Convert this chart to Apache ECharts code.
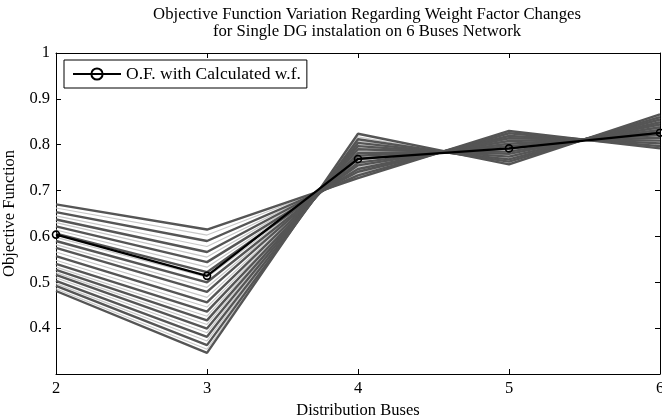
<!DOCTYPE html>
<html>
<head>
<meta charset="utf-8">
<script src="https://cdn.jsdelivr.net/npm/echarts@6/dist/echarts.min.js"></script>
<style>html,body{margin:0;padding:0;background:#fff;}#c{width:662px;height:418px;}</style>
</head>
<body>
<div id="c"></div>
<script>
// Distribution buses (x)
const buses = [2, 3, 4, 5, 6];
// Objective function for each weight-factor combination (dark lines), one array per bus
const darkAt2 = [0.670, 0.653, 0.637, 0.622, 0.606, 0.590, 0.575, 0.557, 0.540, 0.527, 0.516, 0.503, 0.492, 0.481];
const darkAt3 = [0.615, 0.590, 0.566, 0.544, 0.522, 0.500, 0.479, 0.456, 0.436, 0.417, 0.399, 0.381, 0.363, 0.346];
const darkAt4 = [0.727, 0.733, 0.741, 0.747, 0.755, 0.761, 0.769, 0.776, 0.782, 0.790, 0.797, 0.804, 0.812, 0.824];
const darkAt5 = [0.830, 0.825, 0.819, 0.814, 0.808, 0.802, 0.797, 0.791, 0.785, 0.780, 0.774, 0.768, 0.763, 0.757];
const darkAt6 = [0.792, 0.797, 0.803, 0.809, 0.815, 0.821, 0.827, 0.832, 0.838, 0.844, 0.849, 0.855, 0.860, 0.866];
// Intermediate weight-factor combinations (light lines)
const lightAt2 = [0.662, 0.645, 0.630, 0.614, 0.598, 0.582, 0.566, 0.548, 0.533, 0.521, 0.510, 0.497, 0.486];
const lightAt3 = [0.603, 0.578, 0.555, 0.533, 0.511, 0.489, 0.467, 0.446, 0.426, 0.408, 0.390, 0.372, 0.354];
const lightAt4 = [0.730, 0.737, 0.744, 0.751, 0.758, 0.765, 0.772, 0.779, 0.786, 0.793, 0.800, 0.808, 0.817];
const lightAt5 = [0.828, 0.822, 0.816, 0.811, 0.805, 0.800, 0.794, 0.788, 0.783, 0.777, 0.771, 0.766, 0.760];
const lightAt6 = [0.795, 0.800, 0.806, 0.812, 0.818, 0.824, 0.830, 0.835, 0.841, 0.846, 0.852, 0.858, 0.863];
// O.F. with calculated weight factors
const calculated = [0.604, 0.514, 0.769, 0.792, 0.826];

const calcName = 'O.F. with Calculated w.f.';
const FONT = "'Liberation Serif', 'Times New Roman', serif";
const FS = 16.5;

const darkCols = [darkAt2, darkAt3, darkAt4, darkAt5, darkAt6];
const lightCols = [lightAt2, lightAt3, lightAt4, lightAt5, lightAt6];

const series = [];
lightCols[0].forEach((_, i) => {
  series.push({
    type: 'line', name: 'light' + i, silent: true, showSymbol: false, symbol: 'none',
    data: buses.map((b, j) => [b, lightCols[j][i]]),
    lineStyle: { color: '#c8c8c8', width: 1.2 }, z: 1
  });
});
darkCols[0].forEach((_, i) => {
  series.push({
    type: 'line', name: 'dark' + i, silent: true, showSymbol: false, symbol: 'none',
    data: buses.map((b, j) => [b, darkCols[j][i]]),
    lineStyle: { color: '#555555', width: 2.4 }, z: 2
  });
});
series.push({
  type: 'line', name: calcName,
  data: buses.map((b, j) => [b, calculated[j]]),
  symbol: 'circle', symbolSize: 7,
  itemStyle: { color: 'rgba(0,0,0,0)', borderColor: '#000', borderWidth: 1.6 },
  lineStyle: { color: '#000', width: 2.2 }, z: 5
});

const chart = echarts.init(document.getElementById('c'), null, { renderer: 'canvas' });
chart.setOption({
  animation: false,
  backgroundColor: '#fff',
  title: {
    text: 'Objective Function Variation Regarding Weight Factor Changes\nfor Single DG instalation on 6 Buses Network',
    left: 362, top: 1, textAlign: 'center',
    textStyle: { fontFamily: FONT, fontSize: 16.7, fontWeight: 'normal', color: '#000', lineHeight: 17 }
  },
  legend: {
    data: [calcName], left: 64, top: 60,
    backgroundColor: '#fff', borderColor: '#000', borderWidth: 1, borderRadius: 0,
    padding: [5, 6, 5, 8], itemWidth: 48, itemHeight: 14, itemGap: 4,
    textStyle: { fontFamily: FONT, fontSize: 17.5, color: '#000' }
  },
  grid: { left: 56, right: 2, top: 53, bottom: 44, containLabel: false, outerBoundsMode: 'none' },
  xAxis: [{
    type: 'value', min: 2, max: 6, interval: 1,
    name: 'Distribution Buses', nameLocation: 'middle', nameGap: 26,
    nameTextStyle: { fontFamily: FONT, fontSize: FS, color: '#000' },
    axisLine: { lineStyle: { color: '#000', width: 1 } },
    axisTick: { inside: true, length: 5, lineStyle: { color: '#000' } },
    axisLabel: { fontFamily: FONT, fontSize: FS, color: '#000', margin: 6 },
    splitLine: { show: false }
  }, {
    type: 'value', min: 2, max: 6, interval: 1, position: 'top',
    axisLine: { show: true, lineStyle: { color: '#000', width: 1 } },
    axisTick: { inside: true, length: 5, lineStyle: { color: '#000' } },
    axisLabel: { show: false }, splitLine: { show: false }
  }],
  yAxis: [{
    type: 'value', min: 0.3, max: 1, interval: 0.1,
    name: 'Objective Function', nameLocation: 'middle', nameGap: 34,
    nameTextStyle: { fontFamily: FONT, fontSize: FS, color: '#000' },
    axisLine: { show: true, lineStyle: { color: '#000', width: 1 } },
    axisTick: { inside: true, length: 5, lineStyle: { color: '#000' } },
    axisLabel: {
      fontFamily: FONT, fontSize: FS, color: '#000', margin: 6,
      formatter: v => (Math.abs(v - 0.3) < 1e-6 ? '' : (Math.abs(v - 1) < 1e-6 ? '1' : v.toFixed(1)))
    },
    splitLine: { show: false }
  }, {
    type: 'value', min: 0.3, max: 1, interval: 0.1, position: 'right',
    axisLine: { show: true, lineStyle: { color: '#000', width: 1 } },
    axisTick: { inside: true, length: 5, lineStyle: { color: '#000' } },
    axisLabel: { show: false }, splitLine: { show: false }
  }],
  series: series
});
</script>
</body>
</html>
